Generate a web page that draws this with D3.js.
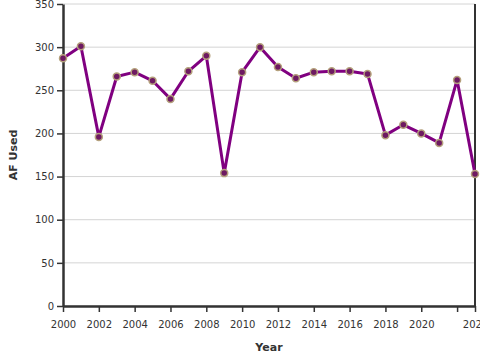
<!DOCTYPE html>
<html><head><meta charset="utf-8">
<script src="https://cdn.jsdelivr.net/npm/d3@7"></script>
<style>body{margin:0;background:#fff}svg{display:block;font-family:"DejaVu Sans",Verdana,sans-serif}</style>
</head><body>
<svg id="c" width="480" height="360"></svg>
<script>
const years = [2000,2001,2002,2003,2004,2005,2006,2007,2008,2009,2010,2011,2012,2013,2014,2015,2016,2017,2018,2019,2020,2021,2022,2023];
const afUsed = [287,301,196,266,271,261,240,272,290,154,271,300,277,264,271,272,272,269,198,210,200,189,262,153];
const yTicks = [0,50,100,150,200,250,300,350];
const xTicks = [2000,2002,2004,2006,2008,2010,2012,2014,2016,2018,2020,2022,2023];
const xTickLabels = ["2000","2002","2004","2006","2008","2010","2012","2014","2016","2018","2020","","2023"];

const svg = d3.select("#c");
const m = {l:63, r:5, t:4, b:54};
const W = 480, H = 360;
const x = d3.scaleLinear().domain([2000,2023]).range([m.l, W-m.r]);
const y = d3.scaleLinear().domain([0,350]).range([H-m.b, m.t]);

// grid
svg.append("g").selectAll("line").data(yTicks).join("line")
  .attr("x1", m.l).attr("x2", W-m.r)
  .attr("y1", d=>y(d)).attr("y2", d=>y(d))
  .attr("stroke", "#d4d4d4").attr("stroke-width", 1);

// right frame
svg.append("line").attr("x1", x(2023)).attr("x2", x(2023))
  .attr("y1", y(350)).attr("y2", y(0)).attr("stroke", "#333").attr("stroke-width", 2);

const yAxis = svg.append("g").attr("transform", `translate(${m.l},0)`)
  .call(d3.axisLeft(y).tickValues(yTicks).tickSize(6).tickSizeOuter(0));
const xAxis = svg.append("g").attr("transform", `translate(0,${H-m.b})`)
  .call(d3.axisBottom(x).tickValues(xTicks).tickSize(6).tickSizeOuter(0)
    .tickFormat((d,i)=>xTickLabels[i]));
[yAxis, xAxis].forEach(g=>{
  g.select(".domain").attr("stroke","#333").attr("stroke-width",2.5);
  g.selectAll(".tick line").attr("stroke","#333").attr("stroke-width",1.5);
  g.selectAll(".tick text").attr("fill","#333").attr("font-size",10)
    .attr("font-family",'"DejaVu Sans",Verdana,sans-serif');
});
xAxis.selectAll(".tick text").attr("dy","1.3em");

// line
svg.append("path").datum(years.map((d,i)=>[d,afUsed[i]]))
  .attr("fill","none").attr("stroke","#800080").attr("stroke-width",3)
  .attr("stroke-linejoin","round")
  .attr("d", d3.line().x(d=>x(d[0])).y(d=>y(d[1])));

svg.append("g").selectAll("circle").data(years).join("circle")
  .attr("cx", d=>x(d)).attr("cy", (d,i)=>y(afUsed[i])).attr("r", 3.5)
  .attr("fill","#6e1a62").attr("stroke","#b4a07c").attr("stroke-width",1.5);

svg.append("text").attr("x", 269).attr("y", 351).attr("text-anchor","middle")
  .attr("font-size",11).attr("font-weight","bold").attr("fill","#333").text("Year");
svg.append("text").attr("transform","translate(17,155) rotate(-90)").attr("text-anchor","middle")
  .attr("font-size",11).attr("font-weight","bold").attr("fill","#333").text("AF Used");
</script>
</body></html>
